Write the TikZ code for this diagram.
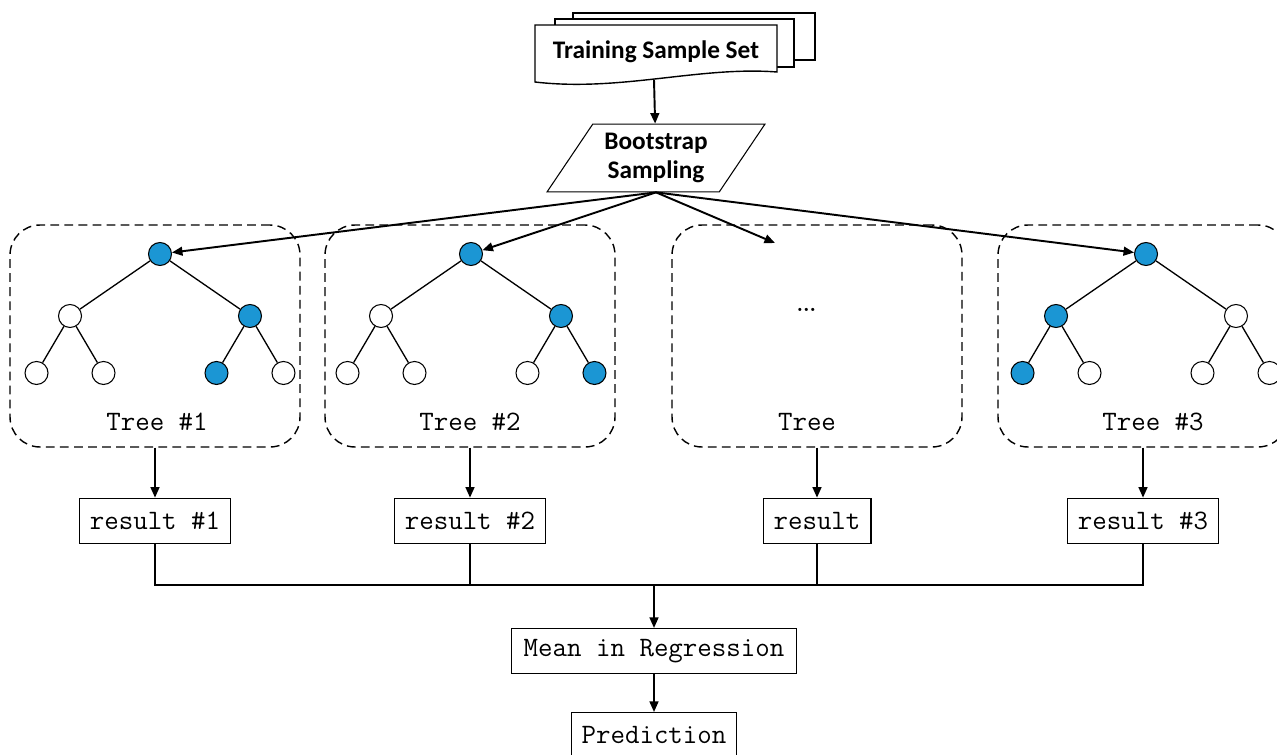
\documentclass[tikz,border=0pt]{standalone}
\usepackage{fontspec}
\newfontfamily\calibri{Carlito}
\usetikzlibrary{positioning,arrows.meta,shapes.geometric}
\definecolor{nodeblue}{RGB}{27,150,212}

\begin{document}
\begin{tikzpicture}[x=0.02cm, y=-0.02cm,
    node distance=1cm,
    mono/.style={font=\fontsize{16}{18}\selectfont\ttfamily},
    resbox/.style={draw, rectangle, mono, minimum height=0.9cm, inner xsep=6pt, line width=0.6pt},
    treebox/.style={draw, dash pattern=on 5pt off 3pt, rounded corners=0.6cm, minimum width=5.8cm, minimum height=4.44cm, line width=0.8pt},
    bluenode/.style={circle, draw, fill=nodeblue, minimum size=0.46cm, inner sep=0pt, line width=0.6pt},
    whitenode/.style={bluenode, fill=white},
    arr/.style={-{Triangle[length=6pt,width=5pt]}, line width=1.1pt},
    level 1/.style={sibling distance=3.6cm, level distance=1.24cm},
    level 2/.style={sibling distance=1.34cm, level distance=1.14cm},
    edge from parent/.style={draw, line width=0.75pt},
]
\useasboundingbox (0,0) rectangle (1277,754);

% Training sample set (stacked documents)
\draw[line width=0.8pt, fill=white] (573,13) rectangle (815,60);
\draw[line width=0.8pt, fill=white] (555,19) rectangle (794,67);
\draw[line width=0.8pt, fill=white] (535,25) -- (777,25) -- (777,72)
    .. controls (700,66) and (620,92) .. (535,82) -- cycle;
\node[font=\fontsize{14.4}{16}\selectfont\calibri\bfseries] (tss) at (656,52) {Training Sample Set};
\coordinate (docbot) at (654,80);

% Bootstrap
\node[draw, trapezium, trapezium left angle=56, trapezium right angle=124,
      minimum width=4.36cm, minimum height=1.3cm, align=center, line width=0.6pt,
      font=\fontsize{14.4}{16.5}\selectfont\calibri\bfseries] (boot) at (656,158) {Bootstrap\\Sampling};

% Tree boxes
\node[treebox] (tb1) at (155,336) {};
\node[treebox] (tb2) at (470,336) {};
\node[treebox] (tb3) at (817,336) {};
\node[treebox] (tb4) at (1143,336) {};

% Trees
\node[bluenode] (t1) at (160,254) {}
  child {node[whitenode] {} child {node[whitenode] {}} child {node[whitenode] {}}}
  child {node[bluenode] {} child {node[bluenode] {}} child {node[whitenode] {}}};
\node[bluenode] (t2) at (471,254) {}
  child {node[whitenode] {} child {node[whitenode] {}} child {node[whitenode] {}}}
  child {node[bluenode] {} child {node[whitenode] {}} child {node[bluenode] {}}};
\node[bluenode] (t4) at (1146,254) {}
  child {node[bluenode] {} child {node[bluenode] {}} child {node[whitenode] {}}}
  child {node[whitenode] {} child {node[whitenode] {}} child {node[whitenode] {}}};
\node[font=\fontsize{22}{24}\selectfont] (dots) at (807,310) {\ldots};
\coordinate (t3) at (775,243);

% Tree labels
\node[mono] (lab1) at (157,422) {Tree \#1};
\node[mono] (lab2) at (470,422) {Tree \#2};
\node[mono] (lab3) at (807,422) {Tree};
\node[mono] (lab4) at (1153,422) {Tree \#3};

% Results
\node[resbox, below=of tb1] (res1) {result \#1};
\node[resbox, below=of tb2] (res2) {result \#2};
\node[resbox, below=of tb3] (res3) {result};
\node[resbox, below=of tb4] (res4) {result \#3};

% Aggregation
\coordinate (bus) at (654,585);
\node[resbox, inner xsep=7pt] (mean) at (654,651) {Mean in Regression};
\node[resbox, below=0.76cm of mean] (pred) {Prediction};

% Arrows
\draw[arr] (docbot) -- (boot);
\draw[arr] (boot.south) -- (t1);
\draw[arr] (boot.south) -- (t2);
\draw[arr] (boot.south) -- (t3);
\draw[arr] (boot.south) -- (t4);
\draw[arr] (tb1) -- (res1);
\draw[arr] (tb2) -- (res2);
\draw[arr] (tb3) -- (res3);
\draw[arr] (tb4) -- (res4);
\draw[line width=1.1pt] (res1.south) |- (bus) -| (res4.south);
\draw[line width=1.1pt] (res2.south) -- (res2.south |- bus);
\draw[line width=1.1pt] (res3.south) -- (res3.south |- bus);
\draw[arr] (bus) -- (mean);
\draw[arr] (mean) -- (pred);
\end{tikzpicture}
\end{document}
